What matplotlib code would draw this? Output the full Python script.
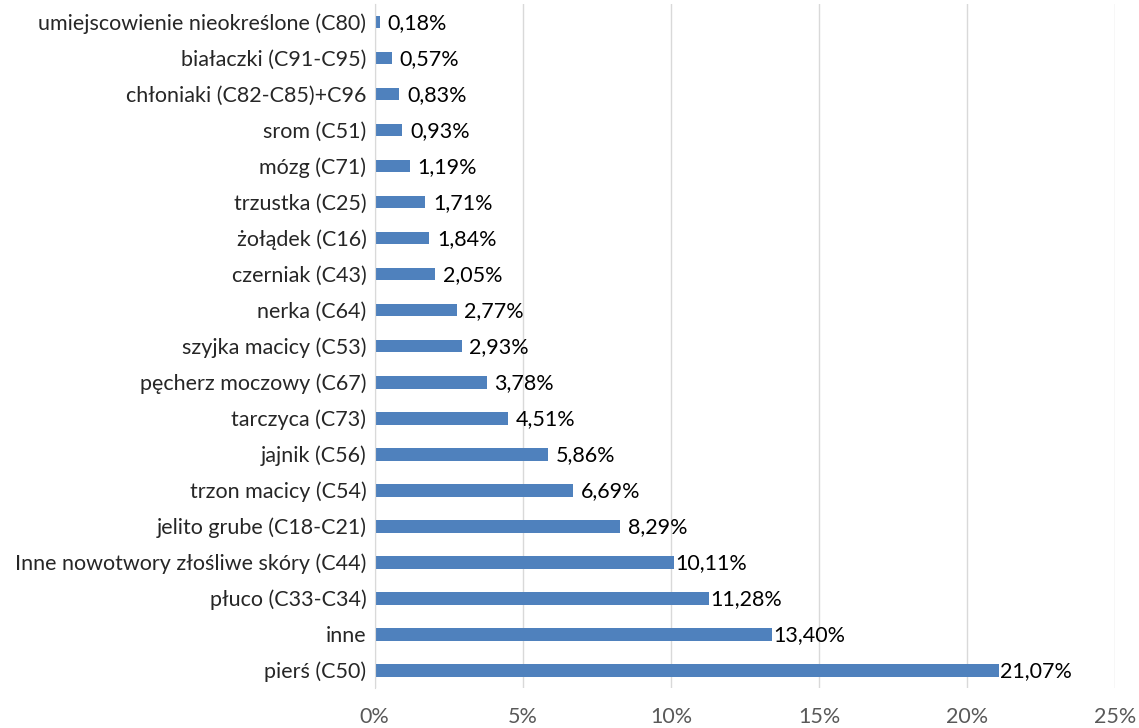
import numpy as np
import matplotlib.pyplot as plt

# dane (od dołu do góry)
kategorie = ['pierś (C50)', 'inne', 'płuco (C33-C34)', 'Inne nowotwory złośliwe skóry (C44)',
             'jelito grube (C18-C21)', 'trzon macicy (C54)', 'jajnik (C56)', 'tarczyca (C73)',
             'pęcherz moczowy (C67)', 'szyjka macicy (C53)', 'nerka (C64)', 'czerniak (C43)',
             'żołądek (C16)', 'trzustka (C25)', 'mózg (C71)', 'srom (C51)',
             'chłoniaki (C82-C85)+C96', 'białaczki (C91-C95)', 'umiejscowienie nieokreślone (C80)']
wartosci = [21.07, 13.40, 11.28, 10.11, 8.29, 6.69, 5.86, 4.51, 3.78, 2.93, 2.77, 2.05,
            1.84, 1.71, 1.19, 0.93, 0.83, 0.57, 0.18]
ticki = [0, 5, 10, 15, 20, 25]

plt.rcParams['font.family'] = ['Lato', 'DejaVu Sans']
fs = 15.5

fig = plt.figure(figsize=(11.39, 7.28), dpi=100)
ax = fig.add_axes([0.329, 0.0549, 0.65, 0.9396])

y = np.arange(len(kategorie))
ax.barh(y, wartosci, height=0.36, color='#4F81BD', zorder=3)
ax.set_ylim(-0.5, len(kategorie) - 0.5)
ax.set_xlim(0, 25)

for yi, v in zip(y, wartosci):
    ax.annotate(f'{v:.2f}%'.replace('.', ','), (v, yi), xytext=(27, -1),
                textcoords='offset points', ha='center', va='center',
                fontsize=fs, color='black')

ax.set_yticks(y)
ax.set_yticklabels(kategorie, fontsize=fs, color='#262626')
ax.set_xticks(ticki)
ax.set_xticklabels([f'{t}%' for t in ticki], fontsize=fs, color='#595959')
ax.tick_params(axis='y', length=0, pad=6)
ax.tick_params(axis='x', length=0, pad=14)

ax.grid(axis='x', color='#D9D9D9', linewidth=1, zorder=0)
for s in ['top', 'right', 'bottom']:
    ax.spines[s].set_visible(False)
ax.spines['left'].set_color('#D9D9D9')
ax.spines['left'].set_zorder(4)

plt.savefig('out.png', dpi=100)
